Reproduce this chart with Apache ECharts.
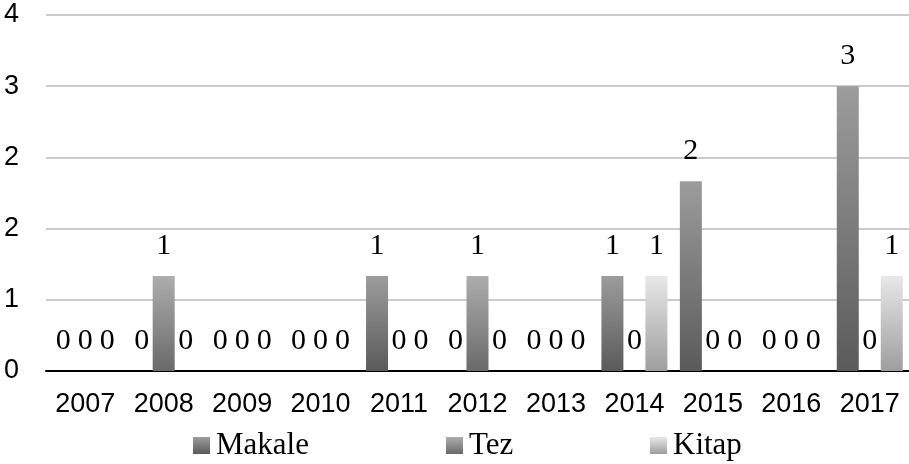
<!DOCTYPE html>
<html>
<head>
<meta charset="utf-8">
<script src="https://cdn.jsdelivr.net/npm/echarts@6/dist/echarts.min.js"></script>
<style>html,body{margin:0;padding:0;background:#fff;}#c{width:909px;height:464px;}</style>
</head>
<body>
<div id="c"></div>
<script>
const years = ['2007','2008','2009','2010','2011','2012','2013','2014','2015','2016','2017'];
const makale = [0,0,0,0,1,0,0,1,2,0,3];
const tez    = [0,1,0,0,0,1,0,0,0,0,0];
const kitap  = [0,0,0,0,0,0,0,1,0,0,1];
const seriesNames = ['Makale','Tez','Kitap'];

function grad(top, bottom){
  return new echarts.graphic.LinearGradient(0,0,0,1,[{offset:0,color:top},{offset:1,color:bottom}]);
}
const colors = [grad('#9c9c9c','#5a5a5a'), grad('#adadad','#6a6a6a'), grad('#e8e8e8','#9e9e9e')];
const serif = '"Liberation Serif","Times New Roman",serif';
const sans = '"Liberation Sans",Arial,sans-serif';

const chart = echarts.init(document.getElementById('c'));
const label = {show:true, position:'top', distance:15, fontFamily:serif, fontSize:30, color:'#000'};
function legend(name, left){
  return {data:[name], left:left, top:425, itemWidth:17, itemHeight:17, icon:'rect',
    textStyle:{fontFamily:serif, fontSize:31, color:'#000', padding:[0,0,0,1]}, selectedMode:false};
}
chart.setOption({
  animation:false,
  legend:[legend('Makale',188), legend('Tez',441), legend('Kitap',645)],
  grid:{left:46, width:866, top:15, bottom:93, containLabel:false},
  xAxis:{type:'category', data:years,
    axisLine:{lineStyle:{color:'#000', width:2}}, axisTick:{show:false},
    axisLabel:{fontFamily:sans, fontSize:27, color:'#000', margin:20}},
  yAxis:{type:'value', min:0, max:3.75, interval:0.75,
    axisLine:{show:false}, axisTick:{show:false},
    splitLine:{lineStyle:{color:'#cbcbcb', width:2}},
    axisLabel:{fontFamily:sans, fontSize:27, color:'#000', margin:27, formatter:v=>String(Math.round(v))}},
  series:[
    {name:seriesNames[0], type:'bar', data:makale, barWidth:22, barGap:'0%', itemStyle:{color:colors[0]}, label:label},
    {name:seriesNames[1], type:'bar', data:tez, barWidth:22, barGap:'0%', itemStyle:{color:colors[1]}, label:label},
    {name:seriesNames[2], type:'bar', data:kitap, barWidth:22, barGap:'0%', itemStyle:{color:colors[2]}, label:label}
  ]
});
</script>
</body>
</html>
